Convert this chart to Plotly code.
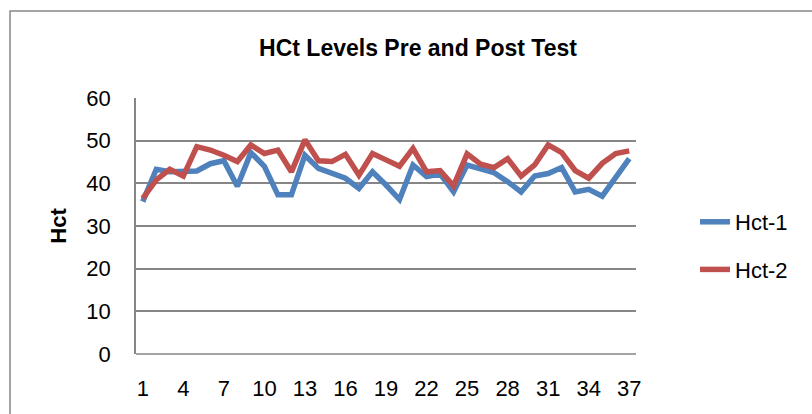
import plotly.graph_objects as go

samples = list(range(1, 38))
hct_1 = [35.7, 43.3, 42.7, 42.7, 42.9, 44.6, 45.3, 39.3, 47.2, 44.0,
         37.3, 37.3, 46.6, 43.5, 42.5, 41.2, 38.8, 42.7, 39.6, 36.2,
         44.3, 41.6, 42.2, 38.0, 44.3, 43.4, 42.5, 40.4, 38.0, 41.7,
         42.3, 43.7, 38.0, 38.6, 37.0, 41.4, 45.8]
hct_2 = [36.5, 40.8, 43.3, 41.7, 48.6, 47.8, 46.6, 45.1, 49.0, 47.0,
         47.8, 42.7, 50.2, 45.3, 45.1, 46.8, 41.9, 47.0, 45.5, 44.0,
         48.2, 42.7, 43.0, 39.4, 46.9, 44.5, 43.7, 45.8, 41.7, 44.3,
         49.0, 47.2, 43.0, 41.2, 44.7, 47.0, 47.6]
x_tick_labels = [1, 4, 7, 10, 13, 16, 19, 22, 25, 28, 31, 34, 37]
y_ticks = [0, 10, 20, 30, 40, 50, 60]

FONT = "Liberation Sans"
BLUE = "#4F81BD"
RED = "#C0504D"
GRID = "#868686"

fig = go.Figure()
fig.add_trace(go.Scatter(x=samples, y=hct_1, mode="lines", name="Hct-1",
                         legendgroup="a",
                         line=dict(color=BLUE, width=5.5)))
fig.add_trace(go.Scatter(x=samples, y=hct_2, mode="lines", name="Hct-2",
                         legendgroup="b",
                         line=dict(color=RED, width=5.5)))

L, R, T, B = 136, 636, 98, 354
W, H = 812, 414

def px_x(p):
    return (p - L) / (R - L)

def px_y(p):
    return (B - p) / (B - T)

fig.update_layout(
    width=W, height=H,
    margin=dict(l=L, r=W - R, t=T, b=H - B),
    paper_bgcolor="white", plot_bgcolor="white",
    font=dict(family=FONT, size=22, color="#000000"),
    title=dict(text="<b>HCt Levels Pre and Post Test</b>",
               font=dict(family=FONT, size=23, color="#000000"),
               x=418 / W, xanchor="center", y=1 - 48 / H, yanchor="middle"),
    xaxis=dict(range=[0.5, 37.5], tickvals=x_tick_labels,
               ticktext=[str(v) for v in x_tick_labels],
               showgrid=False, zeroline=False, showline=False,
               ticks="", ticklabelstandoff=19,
               tickfont=dict(size=22)),
    yaxis=dict(range=[0, 60], tickvals=y_ticks, showgrid=True,
               gridcolor=GRID, gridwidth=1.5, zeroline=False,
               showline=True, linecolor=GRID, linewidth=1.5,
               ticks="", ticklabelstandoff=19,
               tickfont=dict(size=22),
               title=dict(text="<b>Hct</b>", font=dict(size=22), standoff=14)),
    legend=dict(x=px_x(695), xanchor="left", y=px_y(201), yanchor="top",
                font=dict(size=22), tracegroupgap=16,
                bgcolor="rgba(0,0,0,0)"),
    shapes=[
        dict(type="rect", xref="paper", yref="paper",
             x0=px_x(10), x1=px_x(830), y0=px_y(430), y1=px_y(11),
             line=dict(color=GRID, width=1.5), layer="below"),
        dict(type="line", xref="paper", yref="paper",
             x0=0, x1=1, y0=0, y1=0,
             line=dict(color=GRID, width=1.5), layer="below"),
    ],
)

fig.write_html("out.html",
               config={"displayModeBar": False},
               post_script="document.body.style.margin='0';"
                           "document.body.style.overflow='hidden';")
